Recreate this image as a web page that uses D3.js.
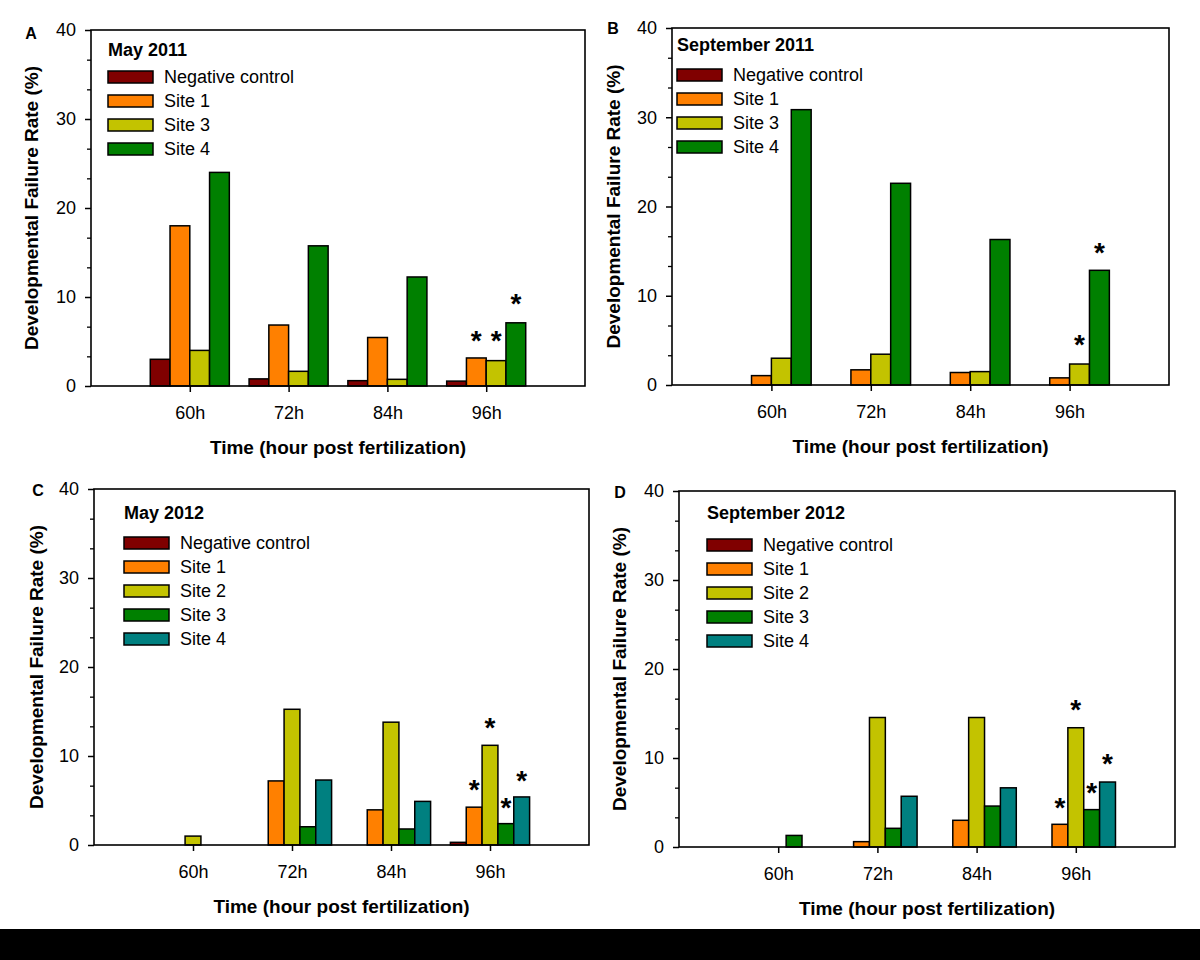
<!DOCTYPE html>
<html>
<head>
<meta charset="utf-8">
<script src="https://cdn.jsdelivr.net/npm/d3@7"></script>
<style>
  html, body { margin: 0; padding: 0; background: #fff; }
  svg { display: block; }
  text { font-family: "Liberation Sans", Arial, Helvetica, sans-serif; fill: #000; }
</style>
</head>
<body>
<div id="chart"></div>
<script>
// ---------------- DATA ----------------
const timepoints = ["60h", "72h", "84h", "96h"];
const yTicks = [0, 10, 20, 30, 40];

const series2011 = ["Negative control", "Site 1", "Site 3", "Site 4"];
const series2012 = ["Negative control", "Site 1", "Site 2", "Site 3", "Site 4"];

// values[series][timepoint], in %
const may2011 = [
  [3.0, 0.8, 0.6, 0.55],   // Negative control
  [18.0, 6.85, 5.45, 3.15], // Site 1
  [4.0, 1.65, 0.75, 2.85],  // Site 3
  [24.0, 15.75, 12.25, 7.1] // Site 4
];
const sep2011 = [
  [0, 0, 0, 0],
  [1.05, 1.7, 1.4, 0.8],
  [3.0, 3.45, 1.5, 2.35],
  [30.85, 22.6, 16.3, 12.85]
];
const may2012 = [
  [0, 0, 0, 0.3],
  [0, 7.2, 3.95, 4.25],
  [1.0, 15.25, 13.8, 11.2],
  [0, 2.05, 1.8, 2.4],
  [0, 7.3, 4.9, 5.4]
];
const sep2012 = [
  [0, 0, 0, 0],
  [0, 0.6, 3.0, 2.55],
  [0, 14.55, 14.55, 13.4],
  [1.3, 2.1, 4.6, 4.2],
  [0, 5.7, 6.65, 7.3]
];

// significance markers: [timepoint index, series index, height in %]
const starsMay2011 = [[3, 1, 5.9], [3, 2, 5.9], [3, 3, 10.0]];
const starsSep2011 = [[3, 2, 5.3], [3, 3, 15.6]];
const starsMay2012 = [[3, 1, 7.0], [3, 2, 14.0], [3, 3, 5.0], [3, 4, 8.0]];
const starsSep2012 = [[3, 1, 5.2], [3, 2, 16.2], [3, 3, 6.9], [3, 4, 10.1]];

const colors2011 = ["#800000", "#ff8000", "#c3c300", "#008000"];
const colors2012 = ["#800000", "#ff8000", "#c3c300", "#008000", "#008080"];

// ---------------- LAYOUT ----------------
const panels = [
  { letter: "A", title: "May 2011", series: series2011, values: may2011, stars: starsMay2011, colors: colors2011,
    left: 91, right: 585, top: 30, bottom: 386, letterX: 31, letterY: 33, yTitleX: 31,
    legX: 108, legTitleY: 50, legRow0: 77 },
  { letter: "B", title: "September 2011", series: series2011, values: sep2011, stars: starsSep2011, colors: colors2011,
    left: 672, right: 1169, top: 28, bottom: 385, letterX: 613, letterY: 28, yTitleX: 613,
    legX: 677, legTitleY: 45, legRow0: 75 },
  { letter: "C", title: "May 2012", series: series2012, values: may2012, stars: starsMay2012, colors: colors2012,
    left: 94, right: 589, top: 489, bottom: 845, letterX: 38, letterY: 490, yTitleX: 36,
    legX: 124, legTitleY: 513, legRow0: 543 },
  { letter: "D", title: "September 2012", series: series2012, values: sep2012, stars: starsSep2012, colors: colors2012,
    left: 679, right: 1175, top: 491, bottom: 847, letterX: 620, letterY: 492, yTitleX: 619,
    legX: 707, legTitleY: 513, legRow0: 545 }
];

const W = 1200, H = 960;
const svg = d3.select("#chart").append("svg").attr("width", W).attr("height", H);
svg.append("rect").attr("width", W).attr("height", H).attr("fill", "#fff");

panels.forEach(p => {
  const g = svg.append("g");
  const x = d3.scaleLinear().domain([0, timepoints.length + 1]).range([p.left, p.right]);
  const step = x(1) - x(0);
  const xs = d3.scaleBand().domain(d3.range(p.series.length)).range([-0.4 * step, 0.4 * step]).padding(0);
  const y = d3.scaleLinear().domain([0, 40]).range([p.bottom, p.top]);

  // bars
  const barData = [];
  p.values.forEach((row, si) => row.forEach((v, ti) => { if (v > 0) barData.push({ si, ti, v }); }));
  g.selectAll("rect.bar").data(barData).enter().append("rect")
    .attr("class", "bar")
    .attr("x", d => x(d.ti + 1) + xs(d.si))
    .attr("width", xs.bandwidth())
    .attr("y", d => y(d.v))
    .attr("height", d => y(0) - y(d.v))
    .attr("fill", d => p.colors[d.si])
    .attr("stroke", "#000")
    .attr("stroke-width", 1.5);

  // frame
  g.append("rect")
    .attr("x", p.left).attr("y", p.top)
    .attr("width", p.right - p.left).attr("height", p.bottom - p.top)
    .attr("fill", "none").attr("stroke", "#000").attr("stroke-width", 1.6);

  // y axis
  const yAxis = g.append("g").attr("transform", `translate(${p.left},0)`)
    .call(d3.axisLeft(y).tickValues(yTicks).tickSize(6).tickPadding(9));
  yAxis.select(".domain").remove();
  yAxis.selectAll("line").attr("stroke-width", 1.5);
  yAxis.selectAll("text").style("font-size", "18px");

  const minor = d3.range(0, 40.001, 10 / 3).filter(v => Math.abs(v / 10 - Math.round(v / 10)) > 0.01);
  const yMinor = g.append("g").attr("transform", `translate(${p.left},0)`)
    .call(d3.axisLeft(y).tickValues(minor).tickSize(4).tickFormat(""));
  yMinor.select(".domain").remove();
  yMinor.selectAll("line").attr("stroke-width", 1.3);

  // x axis
  const xAxis = g.append("g").attr("transform", `translate(0,${p.bottom})`)
    .call(d3.axisBottom(x).tickValues(d3.range(1, timepoints.length + 1))
      .tickFormat(d => timepoints[d - 1]).tickSize(6).tickPadding(14));
  xAxis.select(".domain").remove();
  xAxis.selectAll("line").attr("stroke-width", 1.5);
  xAxis.selectAll("text").style("font-size", "18px");

  // axis titles
  g.append("text")
    .attr("x", (p.left + p.right) / 2).attr("y", p.bottom + 61.5).attr("dy", "0.35em")
    .attr("text-anchor", "middle").style("font-size", "19px").style("font-weight", "bold")
    .text("Time (hour post fertilization)");
  g.append("text")
    .attr("transform", `translate(${p.yTitleX},${(p.top + p.bottom) / 2}) rotate(-90)`)
    .attr("dy", "0.35em").attr("text-anchor", "middle")
    .style("font-size", "19px").style("font-weight", "bold")
    .text("Developmental Failure Rate (%)");

  // panel letter
  g.append("text").attr("x", p.letterX).attr("y", p.letterY).attr("dy", "0.35em")
    .attr("text-anchor", "middle").style("font-size", "16px").style("font-weight", "bold")
    .text(p.letter);

  // legend
  g.append("text").attr("x", p.legX).attr("y", p.legTitleY).attr("dy", "0.35em")
    .style("font-size", "18px").style("font-weight", "bold").text(p.title);
  const leg = g.selectAll("g.leg").data(p.series).enter().append("g")
    .attr("transform", (d, i) => `translate(${p.legX},${p.legRow0 + i * 24})`);
  leg.append("rect").attr("x", 0).attr("y", -6).attr("width", 45).attr("height", 12)
    .attr("fill", (d, i) => p.colors[i]).attr("stroke", "#000").attr("stroke-width", 1.5);
  leg.append("text").attr("x", 56).attr("y", 0).attr("dy", "0.35em")
    .style("font-size", "18px").text(d => d);

  // significance stars
  const fs = 28;
  g.selectAll("text.star").data(p.stars).enter().append("text")
    .attr("class", "star")
    .attr("x", d => x(d[0] + 1) + xs(d[1]) + xs.bandwidth() / 2)
    .attr("y", d => y(d[2]) + 0.58 * fs)
    .attr("text-anchor", "middle")
    .style("font-size", fs + "px").style("font-weight", "bold")
    .text("*");
});

// black band at bottom of the figure
svg.append("rect").attr("x", 0).attr("y", 929).attr("width", W).attr("height", H - 929).attr("fill", "#000");
</script>
</body>
</html>
